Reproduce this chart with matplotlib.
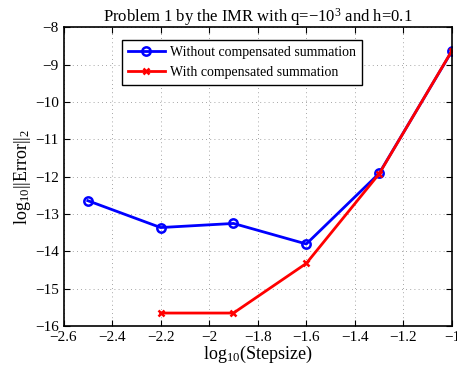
import matplotlib
matplotlib.use("Agg")
import matplotlib.pyplot as plt

plt.rcParams['font.family'] = ['Liberation Serif', 'DejaVu Serif']
plt.rcParams['mathtext.fontset'] = 'custom'
plt.rcParams['mathtext.rm'] = 'Liberation Serif'
plt.rcParams['mathtext.it'] = 'Liberation Serif:italic'
plt.rcParams['mathtext.default'] = 'regular'

x_without = [-2.5, -2.2, -1.9, -1.6, -1.3, -1.0]
y_without = [-12.64, -13.36, -13.25, -13.80, -11.91, -8.63]
x_with = [-2.2, -1.9, -1.6, -1.3, -1.0]
y_with = [-15.65, -15.65, -14.32, -11.92, -8.62]

xticks = [-2.6, -2.4, -2.2, -2.0, -1.8, -1.6, -1.4, -1.2, -1.0]
xticklabels = ['\u22122.6', '\u22122.4', '\u22122.2', '\u22122', '\u22121.8', '\u22121.6', '\u22121.4', '\u22121.2', '\u22121']
yticks = [-16, -15, -14, -13, -12, -11, -10, -9, -8]
yticklabels = ['\u221216', '\u221215', '\u221214', '\u221213', '\u221212', '\u221211', '\u221210', '\u22129', '\u22128']

fig = plt.figure(figsize=(4.57, 3.71), dpi=100)
ax = fig.add_axes([0.139, 0.121, 0.850, 0.805])

ax.plot(x_without, y_without, color='blue', lw=2, marker='o', ms=6,
        mfc='none', mec='blue', mew=1.8, label='Without compensated summation')
ax.plot(x_with, y_with, color='red', lw=2, marker='x', ms=5,
        mec='red', mew=1.8, label='With compensated summation')

ax.set_xlim(-2.6, -1.0)
ax.set_ylim(-16, -8)
ax.set_xticks(xticks)
ax.set_xticklabels(xticklabels)
ax.set_yticks(yticks)
ax.set_yticklabels(yticklabels)
ax.tick_params(direction='in', top=True, right=True, labelsize=11, length=4, width=0.8)
ax.grid(True, linestyle=(0, (1, 4)), color='#888888', linewidth=0.6)
for s in ax.spines.values():
    s.set_linewidth(1.2)

ax.set_title('Problem 1 by the IMR with q=\u221210$^3$ and h=0.1', fontsize=12, pad=4)
ax.set_xlabel('log$_{10}$(Stepsize)', fontsize=13, labelpad=0)
ax.set_ylabel('log$_{10}$||Error||$_2$', fontsize=13, labelpad=1)

leg = ax.legend(loc='upper left', bbox_to_anchor=(0.151, 0.958), fontsize=10,
                handlelength=2.6, handletextpad=0.4, frameon=True, fancybox=False, framealpha=1,
                edgecolor='black', borderpad=0.45, labelspacing=0.5, borderaxespad=0)
leg.get_frame().set_linewidth(1.0)

fig.savefig('out.png', dpi=100)
